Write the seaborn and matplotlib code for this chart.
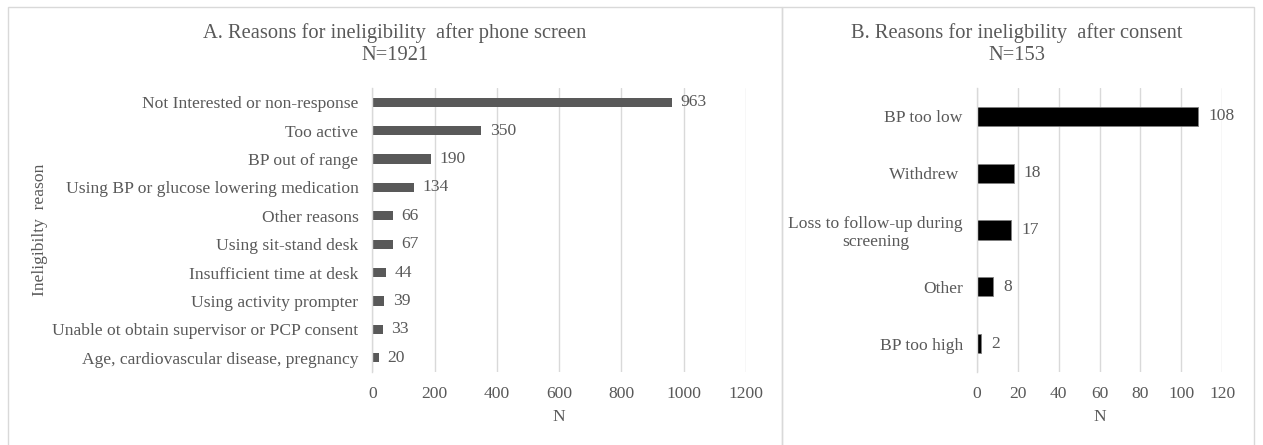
import matplotlib
matplotlib.use("Agg")
import matplotlib.pyplot as plt
import seaborn as sns
import pandas as pd
from matplotlib.patches import Rectangle

# ---- data ----
reasons_a = [
    "Not Interested or non-response",
    "Too active",
    "BP out of range",
    "Using BP or glucose lowering medication",
    "Other reasons",
    "Using sit-stand desk",
    "Insufficient time at desk",
    "Using activity prompter",
    "Unable ot obtain supervisor or PCP consent",
    "Age, cardiovascular disease, pregnancy",
]
counts_a = [963, 350, 190, 134, 66, 67, 44, 39, 33, 20]
xticks_a = [0, 200, 400, 600, 800, 1000, 1200]

reasons_b = [
    "BP too low",
    "Withdrew ",
    "Loss to follow-up during\nscreening",
    "Other",
    "BP too high",
]
counts_b = [108, 18, 17, 8, 2]
xticks_b = [0, 20, 40, 60, 80, 100, 120]

title_a = "A. Reasons for ineligibility  after phone screen\nN=1921"
title_b = "B. Reasons for ineligbility  after consent\nN=153"
ylabel_a = "Ineligibilty  reason"

sns.set_theme(style="white")
plt.rcParams["font.family"] = ["Liberation Serif", "DejaVu Serif"]

TXT = "#595959"
GRID = "#d9d9d9"
W, H = 1263, 445

fig = plt.figure(figsize=(W / 100, H / 100), dpi=100)
fig.patch.set_facecolor("white")

# panel borders
for x0, x1 in [(8, 782), (782, 1254)]:
    fig.patches.append(Rectangle((x0 / W, -0.02), (x1 - x0) / W, 1 - 7 / H + 0.02,
                                 transform=fig.transFigure, fill=False,
                                 edgecolor=GRID, linewidth=1.0, zorder=0))

bot = (H - 372) / H
hgt = 284 / H
ax_a = fig.add_axes([372.3 / W, bot, 373.7 / W, hgt])
ax_b = fig.add_axes([976.7 / W, bot, 245.6 / W, hgt])

df_a = pd.DataFrame({"reason": reasons_a, "n": counts_a})
df_b = pd.DataFrame({"reason": reasons_b, "n": counts_b})

sns.barplot(data=df_a, y="reason", x="n", color="#595959", width=0.33,
            saturation=1, ax=ax_a, zorder=3, linewidth=0)
sns.barplot(data=df_b, y="reason", x="n", color="#000000", width=0.34,
            saturation=1, ax=ax_b, zorder=3, edgecolor="#7f7f7f", linewidth=0.6)

FS = 12.6
for ax, ticks, pad in [(ax_a, xticks_a, 6.0), (ax_b, xticks_b, 7.5)]:
    ax.set_xlim(ticks[0], ticks[-1])
    ax.set_xticks(ticks)
    ax.set_xticklabels([str(t) for t in ticks], fontsize=FS, color=TXT)
    ax.tick_params(axis="x", length=0, pad=10)
    ax.tick_params(axis="y", length=0, pad=10)
    for lab in ax.get_yticklabels():
        lab.set_fontsize(FS)
        lab.set_color(TXT)
        lab.set_multialignment("center")
    ax.grid(axis="x", color=GRID, linewidth=1.0, zorder=0)
    ax.grid(axis="y", visible=False)
    for s in ["top", "right", "bottom"]:
        ax.spines[s].set_visible(False)
    ax.spines["left"].set_color(GRID)
    ax.spines["left"].set_linewidth(1.0)
    ax.spines["left"].set_zorder(4)
    ax.set_xlabel("N", fontsize=FS, color=TXT, labelpad=5)
    ax.set_ylabel("")
    for c in ax.containers:
        ax.bar_label(c, labels=[f"{int(v)}" for v in c.datavalues], padding=pad,
                     fontsize=FS, color=TXT)

fig.text(40 / W, 1 - 230 / H, ylabel_a, rotation=90, ha="center", va="center",
         fontsize=FS, color=TXT)

fig.text(395 / W, 1 - 44 / H, title_a, ha="center", va="center", fontsize=14.8,
         color=TXT, linespacing=1.15)
fig.text(1017 / W, 1 - 44 / H, title_b, ha="center", va="center", fontsize=14.8,
         color=TXT, linespacing=1.15)

fig.savefig("out.png", dpi=100, facecolor="white")
